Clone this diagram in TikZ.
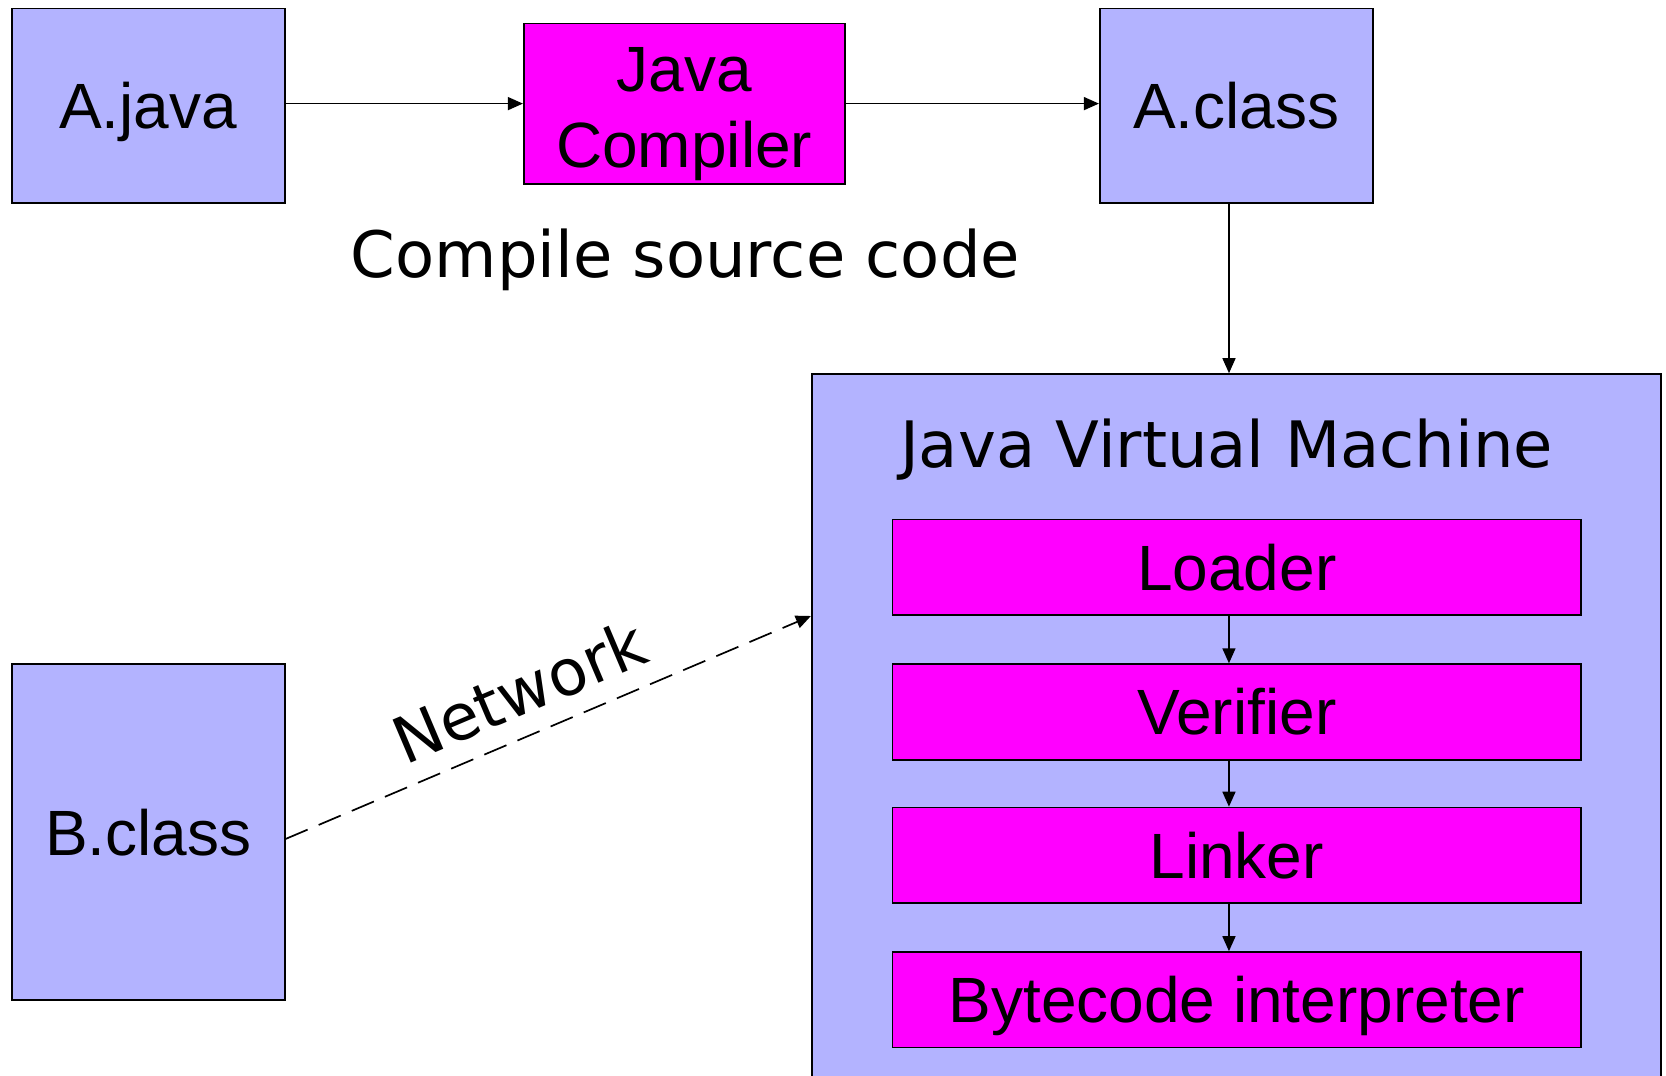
\documentclass[tikz,border=0pt]{standalone}
\usepackage{fontspec}
\setmainfont{Liberation Sans}
\newfontfamily\verd{DejaVu Sans}
\usetikzlibrary{arrows.meta}
\definecolor{lav}{RGB}{179,179,255}
\definecolor{mag}{RGB}{255,0,255}
\begin{document}
\begin{tikzpicture}[x=0.5pt,y=0.5pt,
  box/.style={draw=black,line width=0.8pt,fill=lav,inner sep=0pt,
    font=\fontsize{32}{37.7}\selectfont,text height=23pt,text depth=0pt},
  stage/.style={box,fill=mag,minimum width=344.25pt,minimum height=47.8pt},
  conn/.style={line width=0.75pt,-{Triangle[length=7.5pt,width=6.5pt]}},
  lbl/.style={inner sep=0pt,font=\verd\fontsize{32}{38}\selectfont,text height=23.3pt,text depth=0pt}]
\useasboundingbox (0,0) rectangle (1666,-1076);
\node[box,minimum width=136.5pt,minimum height=97.2pt] (ajava) at (148.2,-105.7) {A.java};
\node[box,fill=mag,minimum width=160.5pt,minimum height=80.2pt,align=center,text height=63.4pt] (comp) at (684.2,-103.6) {Java\\Compiler};
\node[box,minimum width=136.5pt,minimum height=97.2pt] (aclass) at (1236.2,-105.7) {A.class};
\node[box,minimum width=136.5pt,minimum height=168pt] (bclass) at (148.2,-832) {B.class};
\node[box,minimum width=424.5pt,minimum height=358pt] (jvm) at (1236.2,-732) {};
\node[lbl] (jvmtitle) at (1226.5,-443.7) {Java Virtual Machine};
\node[lbl] (compile) at (685.5,-254.5) {Compile source code};
\node[stage] (loader) at (1236.75,-567.4) {Loader};
\node[stage] (verifier) at (1236.75,-711.9) {Verifier};
\node[stage] (linker) at (1236.75,-855.3) {Linker};
\node[stage] (bytecode) at (1236.75,-999.8) {Bytecode interpreter};
\draw[conn] (ajava.east |- comp.west) -- (comp.west);
\draw[conn] (comp.east) -- (comp.east -| aclass.west);
\draw[conn] ([xshift=-3.6pt]aclass.south) -- ([xshift=-3.6pt]aclass.south |- jvm.north);
\draw[conn] ([xshift=-3.9pt]loader.south) -- ([xshift=-3.9pt]verifier.north);
\draw[conn] ([xshift=-3.9pt]verifier.south) -- ([xshift=-3.9pt]linker.north);
\draw[conn] ([xshift=-3.9pt]linker.south) -- ([xshift=-3.9pt]bytecode.north);
\draw[conn,line width=0.85pt,dash pattern=on 12pt off 6pt] ([yshift=-3.5pt]bclass.east) -- ([yshift=58pt]jvm.west)
  node[lbl,pos=0.478,sloped,above=10pt] (network) {Network};
\end{tikzpicture}
\end{document}
